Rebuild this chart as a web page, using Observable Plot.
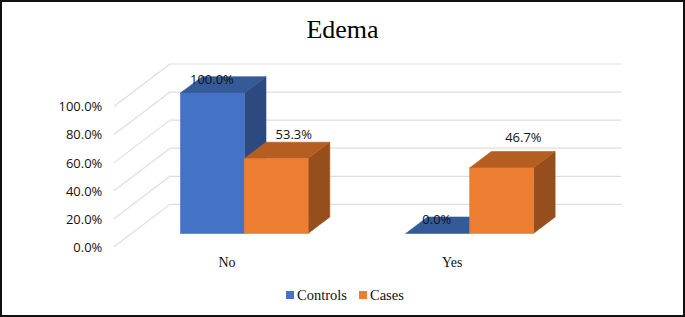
<!DOCTYPE html>
<html>
<head>
<meta charset="utf-8">
<script src="https://cdn.jsdelivr.net/npm/d3@7"></script>
<script src="https://cdn.jsdelivr.net/npm/@observablehq/plot@0.6"></script>
<style>
html,body{margin:0;padding:0;background:#fff}
#frame{position:relative;box-sizing:border-box;width:685px;height:317px;border:2px solid #111;overflow:hidden;background:#fff}
#title{position:absolute;left:-2px;width:685px;top:11px;text-align:center;font:26px "Liberation Serif",serif;color:#000;line-height:34px}
#chart{position:absolute;left:-2px;top:46px}
#legend{position:absolute;top:285px;left:0;font:14.5px "Liberation Serif",serif;color:#111;line-height:16px}
#legend i{position:absolute;top:4px;width:8px;height:8px}
#legend span{position:absolute;top:0}
svg{display:block}
</style>
</head>
<body>
<div id="frame">
  <div id="title">Edema</div>
  <div id="chart"></div>
  <div id="legend">
    <i style="left:284px;background:#4472C4"></i><span style="left:295px">Controls</span>
    <i style="left:357px;background:#ED7D31"></i><span style="left:368px">Cases</span>
  </div>
</div>
<script>
const categories = ["No", "Yes"];
const controls = [100.0, 0.0];
const cases = [53.3, 46.7];
const yTicks = [0, 20, 40, 60, 80, 100];

// oblique projection of the 3-D chart box (t = depth, in bar depths)
const tx = 0.0963, ty = 11.7;
const P = (x, y, t = 0) => ({x: x + t * tx, y: y + t * ty});
const wallBack = 1.77, floorFront = -0.8, barW = 0.2832;
const xEdge = [-0.5, 1.5];

const blue = {front: "#4472C4", top: "#355A98", side: "#2C4A80"};
const orange = {front: "#ED7D31", top: "#B55E22", side: "#964F1C"};
const face = (pts, c) => Plot.line(pts, {x: "x", y: "y", fill: c, stroke: c, strokeWidth: 0.6});

function bar(i, value, side, c) {
  const x0 = side < 0 ? i - barW : i, x1 = x0 + barW;
  const m = [];
  if (value > 0) m.push(face([P(x1, 0), P(x1, 0, 1), P(x1, value, 1), P(x1, value)], c.side));
  m.push(face([P(x0, value), P(x1, value), P(x1, value, 1), P(x0, value, 1), P(x0, value)], c.top));
  if (value > 0) m.push(face([P(x0, 0), P(x1, 0), P(x1, value), P(x0, value), P(x0, 0)], c.front));
  return m;
}

const grid = yTicks.map(v => Plot.line(
  [P(xEdge[0], v, floorFront), P(xEdge[0], v, wallBack), P(xEdge[1], v, wallBack)],
  {x: "x", y: "y", stroke: "#DEDEDE", strokeWidth: 1.2}));

const yLabels = yTicks.map(v => ({...P(xEdge[0], v, floorFront), s: v.toFixed(1) + "%"}));
const catLabels = categories.map((c, i) => ({...P(i, 0, floorFront), s: c}));

// value labels: bar value + label nudge in data units
const nudgeX = [[-0.002, -0.004], [0.078, 0.097]];
const nudgeY = [[9.5, 9.5], [16.8, 21.5]];
const valueLabels = [];
[controls, cases].forEach((series, s) => series.forEach((v, i) => {
  valueLabels.push({
    x: i + (s === 0 ? -barW / 2 : barW / 2) + nudgeX[s][i],
    y: v + nudgeY[s][i],
    s: v.toFixed(1) + "%"
  });
}));

const sans = "'Open Sans', sans-serif";
const plot = Plot.plot({
  width: 685,
  height: 225,
  margin: 0,
  style: {background: "transparent", overflow: "visible"},
  x: {domain: xEdge, range: [131.5, 583.5], axis: null},
  y: {domain: [0, 100], range: [185.5, 44.7], axis: null},
  marks: [
    ...grid,
    ...categories.flatMap((c, i) => [
      ...bar(i, controls[i], -1, blue),
      ...bar(i, cases[i], 1, orange)
    ]),
    Plot.text(yLabels, {x: "x", y: "y", text: "s", textAnchor: "end", dx: -12, dy: 1, fontSize: 13, fontFamily: sans, fill: "#111"}),
    Plot.text(catLabels, {x: "x", y: "y", text: "s", dy: 16, fontSize: 14, fontFamily: "'Liberation Serif', serif", fill: "#111"}),
    Plot.text(valueLabels, {x: "x", y: "y", text: "s", fontSize: 13, fontFamily: sans, fill: "#111"})
  ]
});
document.getElementById("chart").appendChild(plot);
</script>
</body>
</html>
